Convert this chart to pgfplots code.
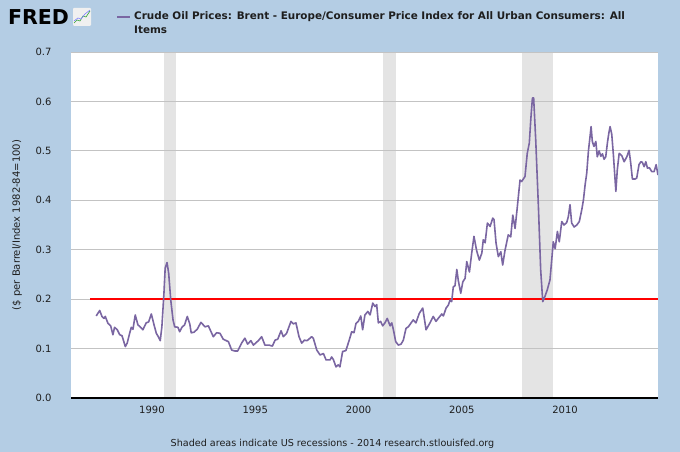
\documentclass[border=0pt]{standalone}
\usepackage{fontspec}
\setmainfont{DejaVu Sans}
\usepackage{pgfplots}
\pgfplotsset{compat=1.18}
\definecolor{bgblue}{RGB}{180,205,228}
\definecolor{recgray}{RGB}{228,228,228}
\definecolor{gridgray}{RGB}{195,195,195}
\definecolor{serpurple}{RGB}{122,102,162}
\definecolor{fredtext}{RGB}{30,30,30}
\definecolor{refred}{RGB}{255,0,0}
\pgfplotsset{frame/.style={
  at={(71pt,54pt)}, anchor=south west,
  scale only axis, width=587pt, height=346pt,
  xmin=1986.08, xmax=2014.5, ymin=0, ymax=0.7}}
\begin{document}
\begin{tikzpicture}[x=1pt,y=1pt]
\fill[bgblue] (0,0) rectangle (680,452);
% FRED logo
\node[anchor=base west, inner sep=0pt, font=\fontsize{20.5}{21}\selectfont\bfseries] at (8,427) {FRED};
\fill[white!88!gray, rounded corners=1pt] (73,426) rectangle (91,444);
\draw[green!55!black!80, line width=0.6pt] (74,429) -- (77,432) -- (80,431) -- (83,436) -- (86,435) -- (90,441);
\draw[blue!50!white, line width=0.6pt] (74,431) -- (78,434) -- (81,433) -- (85,438) -- (90,442);
% title (legend)
\draw[serpurple, line width=1.2pt] (117,435) -- (130,435);
\node[anchor=west, inner sep=0pt, text=fredtext, font=\fontsize{10.4}{12}\selectfont\bfseries] at (134,435) {Crude Oil Prices: Brent - Europe/Consumer Price Index for All Urban Consumers: All};
\node[anchor=west, inner sep=0pt, text=fredtext, font=\fontsize{10.4}{12}\selectfont\bfseries] at (134,422) {Items};
% footer
\node[inner sep=0pt, text=fredtext, font=\fontsize{9.6}{11}\selectfont] at (332.5,8) {Shaded areas indicate US recessions - 2014 research.stlouisfed.org};
% background axis: white plot area and recession bands
\begin{axis}[frame,
  axis background/.style={fill=white},
  axis lines=none, xtick=\empty, ytick=\empty]
\addplot[fill=recgray, draw=none] coordinates {(1990.5833,0.7) (1991.1667,0.7)} \closedcycle;
\addplot[fill=recgray, draw=none] coordinates {(2001.1667,0.7) (2001.8333,0.7)} \closedcycle;
\addplot[fill=recgray, draw=none] coordinates {(2007.9167,0.7) (2009.4167,0.7)} \closedcycle;
\end{axis}
% main axis
\begin{axis}[frame,
  axis x line*=bottom, axis y line*=left,
  x axis line style={black, line width=1.5pt},
  y axis line style={draw=none},
  xtick={1990,1995,2000,2005,2010},
  ytick={0,0.1,0.2,0.3,0.4,0.5,0.6,0.7},
  major tick length=0pt,
  tick style={draw=none},
  ymajorgrids,
  major grid style={gridgray, line width=0.8pt},
  /pgf/number format/assume math mode=true,
  tick label style={font=\fontsize{10}{12}\selectfont, text=fredtext},
  xticklabel style={/pgf/number format/1000 sep={}, yshift=-5pt},
  yticklabel style={/pgf/number format/.cd, fixed, fixed zerofill, precision=1, /tikz/.cd, xshift=-16pt},
  ylabel={(\$ per Barrel/Index 1982-84=100)},
  every axis y label/.style={at={(axis description cs:-0.092,0.5)}, rotate=90, anchor=center, font=\fontsize{10}{12}\selectfont, text=fredtext},
]
\addplot[draw=refred, color=refred, line width=1.3pt, mark=none] coordinates {(1987,0.2) (2014.5,0.2)};
\addplot[draw=serpurple, line width=1.6pt, line join=round, mark=none] table {
1987.30 0.166
1987.47 0.177
1987.58 0.165
1987.68 0.161
1987.74 0.165
1987.87 0.151
1988.00 0.146
1988.11 0.128
1988.19 0.143
1988.32 0.138
1988.44 0.128
1988.55 0.126
1988.71 0.104
1988.80 0.111
1988.92 0.131
1989.00 0.143
1989.08 0.139
1989.19 0.168
1989.32 0.148
1989.45 0.143
1989.56 0.138
1989.72 0.152
1989.84 0.154
1989.97 0.170
1990.10 0.148
1990.21 0.131
1990.32 0.123
1990.40 0.116
1990.48 0.144
1990.58 0.212
1990.64 0.263
1990.73 0.274
1990.81 0.252
1990.91 0.198
1991.02 0.158
1991.10 0.144
1991.26 0.143
1991.34 0.134
1991.45 0.143
1991.58 0.148
1991.71 0.165
1991.83 0.150
1991.90 0.132
1992.03 0.133
1992.19 0.139
1992.37 0.153
1992.57 0.144
1992.73 0.146
1992.97 0.124
1993.13 0.132
1993.29 0.131
1993.45 0.119
1993.70 0.114
1993.86 0.097
1994.02 0.095
1994.15 0.095
1994.34 0.111
1994.50 0.121
1994.63 0.109
1994.79 0.116
1994.91 0.107
1995.15 0.116
1995.31 0.124
1995.47 0.107
1995.67 0.107
1995.83 0.105
1995.96 0.117
1996.09 0.119
1996.25 0.136
1996.36 0.124
1996.52 0.131
1996.73 0.155
1996.84 0.150
1996.97 0.152
1997.12 0.124
1997.25 0.111
1997.38 0.117
1997.50 0.116
1997.57 0.118
1997.73 0.124
1997.81 0.121
1997.98 0.097
1998.14 0.087
1998.30 0.090
1998.43 0.077
1998.62 0.077
1998.70 0.083
1998.78 0.078
1998.91 0.063
1999.02 0.067
1999.10 0.063
1999.23 0.094
1999.39 0.096
1999.55 0.117
1999.67 0.134
1999.78 0.132
1999.88 0.151
1999.99 0.155
2000.11 0.166
2000.20 0.138
2000.31 0.168
2000.45 0.175
2000.56 0.168
2000.69 0.192
2000.80 0.185
2000.88 0.189
2000.96 0.152
2001.07 0.155
2001.17 0.146
2001.28 0.152
2001.39 0.161
2001.53 0.146
2001.61 0.152
2001.69 0.138
2001.80 0.114
2001.93 0.107
2002.06 0.109
2002.17 0.117
2002.30 0.141
2002.41 0.144
2002.65 0.158
2002.78 0.152
2002.94 0.171
2003.11 0.182
2003.27 0.138
2003.46 0.152
2003.62 0.165
2003.75 0.155
2003.86 0.161
2004.03 0.170
2004.11 0.166
2004.24 0.182
2004.35 0.188
2004.43 0.198
2004.51 0.195
2004.59 0.225
2004.67 0.227
2004.76 0.260
2004.83 0.238
2004.95 0.212
2005.05 0.235
2005.16 0.242
2005.24 0.276
2005.37 0.255
2005.48 0.293
2005.59 0.327
2005.72 0.298
2005.85 0.279
2005.97 0.293
2006.04 0.320
2006.13 0.314
2006.24 0.354
2006.37 0.347
2006.50 0.364
2006.56 0.361
2006.66 0.313
2006.77 0.286
2006.89 0.296
2006.98 0.269
2007.09 0.298
2007.25 0.330
2007.37 0.326
2007.47 0.370
2007.58 0.343
2007.69 0.387
2007.82 0.441
2007.90 0.438
2008.06 0.448
2008.17 0.495
2008.27 0.516
2008.34 0.563
2008.42 0.607
2008.48 0.607
2008.58 0.522
2008.71 0.387
2008.82 0.259
2008.92 0.195
2009.03 0.206
2009.14 0.219
2009.27 0.239
2009.43 0.316
2009.52 0.302
2009.63 0.337
2009.72 0.316
2009.84 0.357
2009.95 0.350
2010.08 0.355
2010.16 0.367
2010.24 0.391
2010.32 0.354
2010.44 0.346
2010.57 0.350
2010.69 0.357
2010.81 0.381
2010.89 0.401
2010.97 0.431
2011.05 0.455
2011.13 0.499
2011.21 0.529
2011.26 0.549
2011.32 0.519
2011.40 0.509
2011.49 0.519
2011.56 0.488
2011.65 0.500
2011.73 0.489
2011.81 0.494
2011.89 0.483
2011.97 0.488
2012.05 0.516
2012.12 0.536
2012.18 0.549
2012.26 0.534
2012.34 0.492
2012.46 0.418
2012.53 0.462
2012.62 0.495
2012.75 0.490
2012.86 0.478
2012.99 0.488
2013.10 0.501
2013.18 0.475
2013.26 0.443
2013.39 0.443
2013.47 0.445
2013.58 0.472
2013.67 0.478
2013.74 0.477
2013.83 0.468
2013.91 0.478
2013.99 0.465
2014.08 0.466
2014.20 0.458
2014.31 0.458
2014.41 0.472
2014.50 0.451
};
\end{axis}
\end{tikzpicture}
\end{document}
